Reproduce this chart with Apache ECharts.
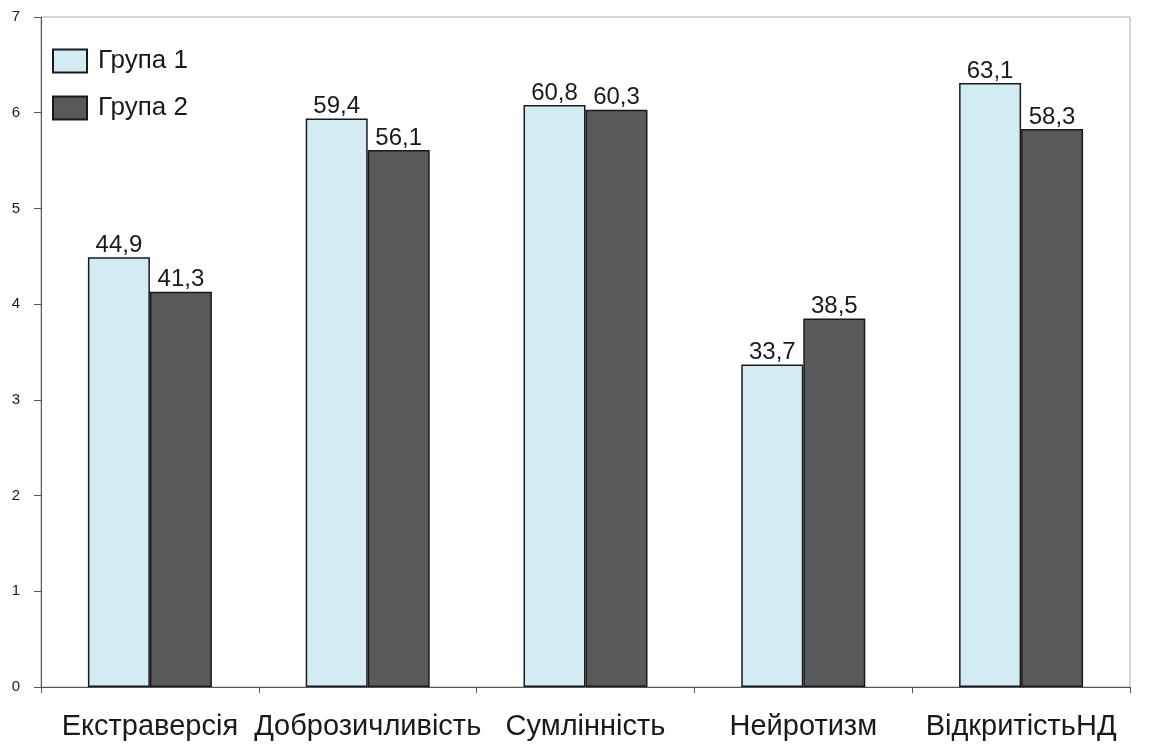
<!DOCTYPE html>
<html><head><meta charset="utf-8">
<script src="https://cdn.jsdelivr.net/npm/echarts@6/dist/echarts.min.js"></script>
<style>html,body{margin:0;padding:0;background:#fff}#c{width:1151px;height:745px}</style>
</head><body><div id="c"></div>
<script>
const categories = ['Екстраверсія','Доброзичливість','Сумлінність','Нейротизм','ВідкритістьНД'];
const group1 = [44.9, 59.4, 60.8, 33.7, 63.1];
const group2 = [41.3, 56.1, 60.3, 38.5, 58.3];
const yTicks = [0,1,2,3,4,5,6,7];
const seriesNames = ['Група 1','Група 2'];

const chart = echarts.init(document.getElementById('c'));
const fmt = p => String(p.data.raw).replace('.', ',');
function mk(name, arr, color){
  return {
    name, type:'bar', barWidth:62, barGap:'0%',
    data: arr.map(v => ({value: v/10, raw: v.toFixed(1)})),
    itemStyle:{color, borderColor:'#1a1a1a', borderWidth:1.5},
    label:{show:true, position:'top', distance:0, formatter: fmt, color:'#1a1a1a', fontSize:24, fontFamily:'Liberation Sans, Arial'}
  };
}
chart.setOption({
  animation:false,
  grid:{left:41, right:21, top:17, bottom:58, show:true, borderColor:'#aaaaaa', borderWidth:1},
  legend:{
    left:47, top:43, orient:'vertical', itemWidth:34, itemHeight:23, itemGap:21,
    icon:'rect',
    textStyle:{fontSize:26, lineHeight:23, color:'#1a1a1a', fontFamily:'Liberation Sans, Arial', padding:[0,0,0,6]},
    data: seriesNames
  },
  xAxis:{
    type:'category', data:categories,
    axisLine:{lineStyle:{color:'#555', width:1}},
    axisTick:{show:true, length:6, lineStyle:{color:'#555'}},
    axisLabel:{interval:0, fontSize:29, color:'#1a1a1a', margin:25, fontFamily:'Liberation Sans, Arial'}
  },
  yAxis:{
    type:'value', min:0, max:7, interval:1,
    axisLine:{show:true, lineStyle:{color:'#555', width:1}},
    axisTick:{show:true, length:7, lineStyle:{color:'#555'}},
    splitLine:{show:false},
    axisLabel:{fontSize:15, color:'#1a1a1a', margin:21, fontFamily:'Liberation Sans, Arial',
      formatter: v => yTicks.includes(v) ? String(v) : ''}
  },
  series:[ mk(seriesNames[0], group1, '#d3ecf3'), mk(seriesNames[1], group2, '#58595b') ]
});
</script></body></html>
